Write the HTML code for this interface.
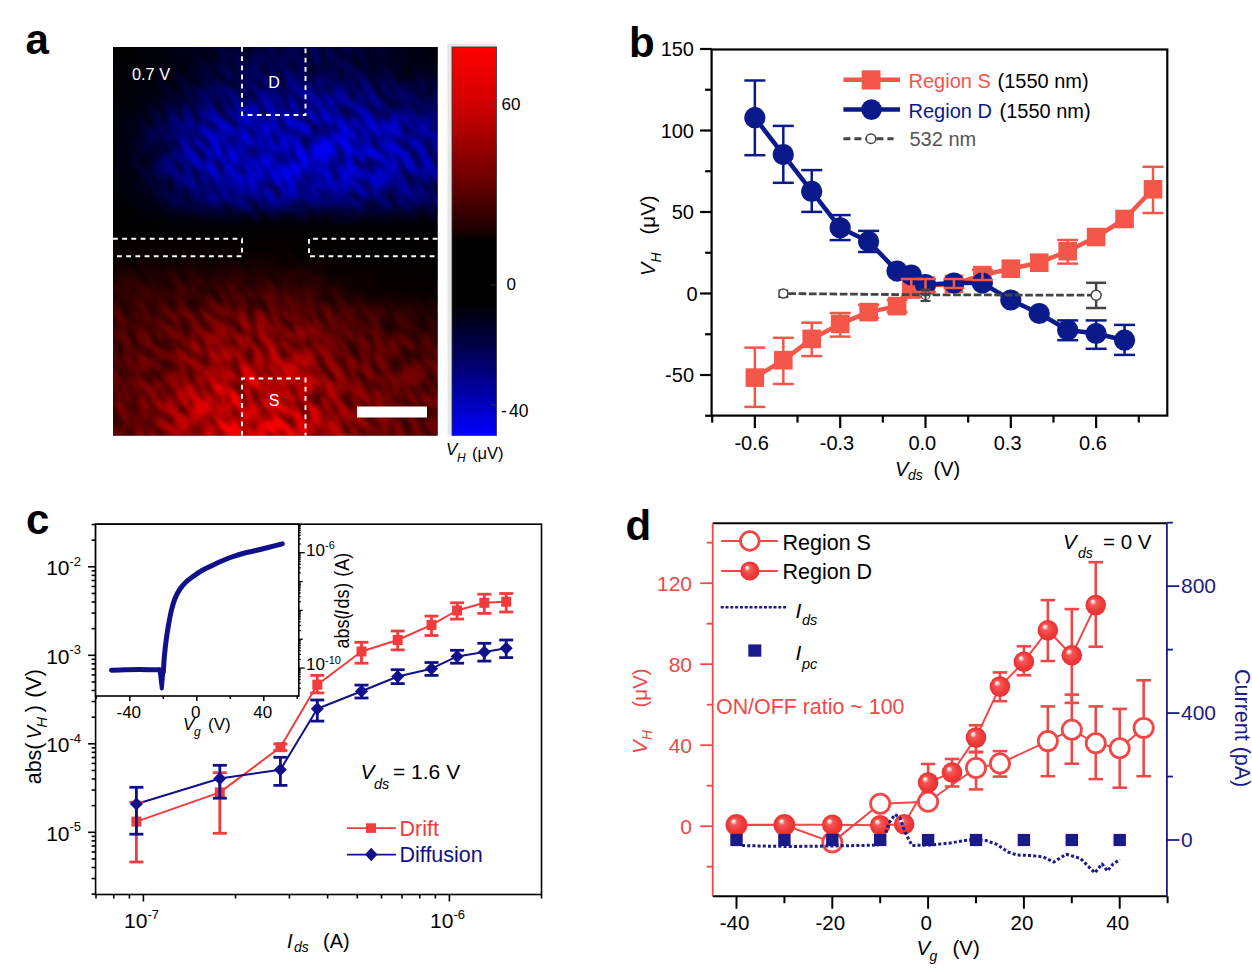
<!DOCTYPE html>
<html><head><meta charset="utf-8"><style>
html,body{margin:0;padding:0;background:#fff;}
svg{display:block;}
text{font-family:"Liberation Sans", sans-serif;}
</style></head><body>
<svg width="1252" height="977" viewBox="0 0 1252 977">
<rect width="1252" height="977" fill="#fff"/>
<text x="25.50" y="53.50" font-size="42" text-anchor="start" fill="#000" font-weight="bold" >a</text>
<defs>
<radialGradient id="gblue" cx="0.5" cy="0.5" r="0.5">
 <stop offset="0" stop-color="#1020d0" stop-opacity="1"/>
 <stop offset="0.55" stop-color="#0818b0" stop-opacity="0.85"/>
 <stop offset="1" stop-color="#000040" stop-opacity="0"/>
</radialGradient>
<radialGradient id="gred" cx="0.5" cy="0.5" r="0.5">
 <stop offset="0" stop-color="#e01010" stop-opacity="1"/>
 <stop offset="0.55" stop-color="#b00808" stop-opacity="0.85"/>
 <stop offset="1" stop-color="#400000" stop-opacity="0"/>
</radialGradient>
<linearGradient id="gcbar" x1="0" y1="0" x2="0" y2="1">
 <stop offset="0" stop-color="#ff0000"/>
 <stop offset="0.15" stop-color="#d00000"/>
 <stop offset="0.35" stop-color="#680000"/>
 <stop offset="0.47" stop-color="#1c0000"/>
 <stop offset="0.5" stop-color="#000000"/>
 <stop offset="0.66" stop-color="#000000"/>
 <stop offset="0.8" stop-color="#000060"/>
 <stop offset="0.9" stop-color="#0000b0"/>
 <stop offset="1" stop-color="#0000ff"/>
</linearGradient>
<clipPath id="mapclip"><rect x="113" y="47" width="324.5" height="388.5"/></clipPath>
<filter id="tex" x="0" y="0" width="100%" height="100%">
 <feTurbulence type="fractalNoise" baseFrequency="0.05 0.12" numOctaves="2" seed="3" result="n"/>
 <feColorMatrix in="n" type="matrix" values="0 0 0 0 0  0 0 0 0 0  0 0 0 0 0  0 0 0 -2.2 1.25" result="m"/>
 <feComposite in="SourceGraphic" in2="m" operator="in"/>
</filter>
</defs>
<rect x="113" y="47" width="324.5" height="388.5" fill="#000"/>
<defs><filter id="mblur" x="-10%" y="-10%" width="120%" height="120%" color-interpolation-filters="sRGB"><feGaussianBlur stdDeviation="11"/></filter>
<filter id="mtex" x="0" y="0" width="100%" height="100%" color-interpolation-filters="sRGB"><feTurbulence type="fractalNoise" baseFrequency="0.055 0.12" numOctaves="1" seed="11" result="n"/><feGaussianBlur in="n" stdDeviation="1.2" result="nb"/><feColorMatrix in="nb" type="matrix" values="0 0 0 0 0  0 0 0 0 0  0 0 0 0 0  1.5 0 0 0 -0.52" result="m"/><feComposite in="SourceGraphic" in2="m" operator="in"/></filter></defs>
<g clip-path="url(#mapclip)">
<g filter="url(#mblur)">
<rect x="86.0" y="14.6" width="27.6" height="33.0" fill="rgb(0,0,5)"/>
<rect x="113.0" y="14.6" width="27.6" height="33.0" fill="rgb(0,0,5)"/>
<rect x="140.0" y="14.6" width="27.6" height="33.0" fill="rgb(0,0,10)"/>
<rect x="167.1" y="14.6" width="27.6" height="33.0" fill="rgb(0,0,26)"/>
<rect x="194.1" y="14.6" width="27.6" height="33.0" fill="rgb(0,0,46)"/>
<rect x="221.2" y="14.6" width="27.6" height="33.0" fill="rgb(0,0,76)"/>
<rect x="248.2" y="14.6" width="27.6" height="33.0" fill="rgb(0,0,92)"/>
<rect x="275.2" y="14.6" width="27.6" height="33.0" fill="rgb(0,0,97)"/>
<rect x="302.3" y="14.6" width="27.6" height="33.0" fill="rgb(0,0,92)"/>
<rect x="329.3" y="14.6" width="27.6" height="33.0" fill="rgb(0,0,76)"/>
<rect x="356.4" y="14.6" width="27.6" height="33.0" fill="rgb(0,0,56)"/>
<rect x="383.4" y="14.6" width="27.6" height="33.0" fill="rgb(0,0,36)"/>
<rect x="410.5" y="14.6" width="27.6" height="33.0" fill="rgb(0,0,20)"/>
<rect x="437.5" y="14.6" width="27.6" height="33.0" fill="rgb(0,0,20)"/>
<rect x="86.0" y="47.0" width="27.6" height="33.0" fill="rgb(0,0,5)"/>
<rect x="113.0" y="47.0" width="27.6" height="33.0" fill="rgb(0,0,5)"/>
<rect x="140.0" y="47.0" width="27.6" height="33.0" fill="rgb(0,0,10)"/>
<rect x="167.1" y="47.0" width="27.6" height="33.0" fill="rgb(0,0,26)"/>
<rect x="194.1" y="47.0" width="27.6" height="33.0" fill="rgb(0,0,46)"/>
<rect x="221.2" y="47.0" width="27.6" height="33.0" fill="rgb(0,0,76)"/>
<rect x="248.2" y="47.0" width="27.6" height="33.0" fill="rgb(0,0,92)"/>
<rect x="275.2" y="47.0" width="27.6" height="33.0" fill="rgb(0,0,97)"/>
<rect x="302.3" y="47.0" width="27.6" height="33.0" fill="rgb(0,0,92)"/>
<rect x="329.3" y="47.0" width="27.6" height="33.0" fill="rgb(0,0,76)"/>
<rect x="356.4" y="47.0" width="27.6" height="33.0" fill="rgb(0,0,56)"/>
<rect x="383.4" y="47.0" width="27.6" height="33.0" fill="rgb(0,0,36)"/>
<rect x="410.5" y="47.0" width="27.6" height="33.0" fill="rgb(0,0,20)"/>
<rect x="437.5" y="47.0" width="27.6" height="33.0" fill="rgb(0,0,20)"/>
<rect x="86.0" y="79.4" width="27.6" height="33.0" fill="rgb(0,0,8)"/>
<rect x="113.0" y="79.4" width="27.6" height="33.0" fill="rgb(0,0,8)"/>
<rect x="140.0" y="79.4" width="27.6" height="33.0" fill="rgb(0,0,20)"/>
<rect x="167.1" y="79.4" width="27.6" height="33.0" fill="rgb(0,0,61)"/>
<rect x="194.1" y="79.4" width="27.6" height="33.0" fill="rgb(0,0,102)"/>
<rect x="221.2" y="79.4" width="27.6" height="33.0" fill="rgb(0,0,133)"/>
<rect x="248.2" y="79.4" width="27.6" height="33.0" fill="rgb(0,0,148)"/>
<rect x="275.2" y="79.4" width="27.6" height="33.0" fill="rgb(0,0,158)"/>
<rect x="302.3" y="79.4" width="27.6" height="33.0" fill="rgb(0,0,158)"/>
<rect x="329.3" y="79.4" width="27.6" height="33.0" fill="rgb(0,0,153)"/>
<rect x="356.4" y="79.4" width="27.6" height="33.0" fill="rgb(0,0,138)"/>
<rect x="383.4" y="79.4" width="27.6" height="33.0" fill="rgb(0,0,107)"/>
<rect x="410.5" y="79.4" width="27.6" height="33.0" fill="rgb(0,0,82)"/>
<rect x="437.5" y="79.4" width="27.6" height="33.0" fill="rgb(0,0,82)"/>
<rect x="86.0" y="111.8" width="27.6" height="33.0" fill="rgb(0,0,13)"/>
<rect x="113.0" y="111.8" width="27.6" height="33.0" fill="rgb(0,0,13)"/>
<rect x="140.0" y="111.8" width="27.6" height="33.0" fill="rgb(0,0,76)"/>
<rect x="167.1" y="111.8" width="27.6" height="33.0" fill="rgb(0,0,158)"/>
<rect x="194.1" y="111.8" width="27.6" height="33.0" fill="rgb(0,0,199)"/>
<rect x="221.2" y="111.8" width="27.6" height="33.0" fill="rgb(0,0,219)"/>
<rect x="248.2" y="111.8" width="27.6" height="33.0" fill="rgb(0,0,224)"/>
<rect x="275.2" y="111.8" width="27.6" height="33.0" fill="rgb(0,0,224)"/>
<rect x="302.3" y="111.8" width="27.6" height="33.0" fill="rgb(0,0,224)"/>
<rect x="329.3" y="111.8" width="27.6" height="33.0" fill="rgb(0,0,224)"/>
<rect x="356.4" y="111.8" width="27.6" height="33.0" fill="rgb(0,0,224)"/>
<rect x="383.4" y="111.8" width="27.6" height="33.0" fill="rgb(0,0,204)"/>
<rect x="410.5" y="111.8" width="27.6" height="33.0" fill="rgb(0,0,178)"/>
<rect x="437.5" y="111.8" width="27.6" height="33.0" fill="rgb(0,0,178)"/>
<rect x="86.0" y="144.1" width="27.6" height="33.0" fill="rgb(0,0,20)"/>
<rect x="113.0" y="144.1" width="27.6" height="33.0" fill="rgb(0,0,20)"/>
<rect x="140.0" y="144.1" width="27.6" height="33.0" fill="rgb(0,0,92)"/>
<rect x="167.1" y="144.1" width="27.6" height="33.0" fill="rgb(0,0,173)"/>
<rect x="194.1" y="144.1" width="27.6" height="33.0" fill="rgb(0,0,219)"/>
<rect x="221.2" y="144.1" width="27.6" height="33.0" fill="rgb(0,0,235)"/>
<rect x="248.2" y="144.1" width="27.6" height="33.0" fill="rgb(0,0,245)"/>
<rect x="275.2" y="144.1" width="27.6" height="33.0" fill="rgb(0,0,245)"/>
<rect x="302.3" y="144.1" width="27.6" height="33.0" fill="rgb(0,0,245)"/>
<rect x="329.3" y="144.1" width="27.6" height="33.0" fill="rgb(0,0,245)"/>
<rect x="356.4" y="144.1" width="27.6" height="33.0" fill="rgb(0,0,235)"/>
<rect x="383.4" y="144.1" width="27.6" height="33.0" fill="rgb(0,0,219)"/>
<rect x="410.5" y="144.1" width="27.6" height="33.0" fill="rgb(0,0,189)"/>
<rect x="437.5" y="144.1" width="27.6" height="33.0" fill="rgb(0,0,189)"/>
<rect x="86.0" y="176.5" width="27.6" height="33.0" fill="rgb(0,0,8)"/>
<rect x="113.0" y="176.5" width="27.6" height="33.0" fill="rgb(0,0,8)"/>
<rect x="140.0" y="176.5" width="27.6" height="33.0" fill="rgb(0,0,41)"/>
<rect x="167.1" y="176.5" width="27.6" height="33.0" fill="rgb(0,0,117)"/>
<rect x="194.1" y="176.5" width="27.6" height="33.0" fill="rgb(0,0,163)"/>
<rect x="221.2" y="176.5" width="27.6" height="33.0" fill="rgb(0,0,194)"/>
<rect x="248.2" y="176.5" width="27.6" height="33.0" fill="rgb(0,0,204)"/>
<rect x="275.2" y="176.5" width="27.6" height="33.0" fill="rgb(0,0,204)"/>
<rect x="302.3" y="176.5" width="27.6" height="33.0" fill="rgb(0,0,199)"/>
<rect x="329.3" y="176.5" width="27.6" height="33.0" fill="rgb(0,0,194)"/>
<rect x="356.4" y="176.5" width="27.6" height="33.0" fill="rgb(0,0,184)"/>
<rect x="383.4" y="176.5" width="27.6" height="33.0" fill="rgb(0,0,163)"/>
<rect x="410.5" y="176.5" width="27.6" height="33.0" fill="rgb(0,0,143)"/>
<rect x="437.5" y="176.5" width="27.6" height="33.0" fill="rgb(0,0,143)"/>
<rect x="86.0" y="208.9" width="27.6" height="33.0" fill="rgb(0,0,0)"/>
<rect x="113.0" y="208.9" width="27.6" height="33.0" fill="rgb(0,0,0)"/>
<rect x="140.0" y="208.9" width="27.6" height="33.0" fill="rgb(0,0,0)"/>
<rect x="167.1" y="208.9" width="27.6" height="33.0" fill="rgb(0,0,5)"/>
<rect x="194.1" y="208.9" width="27.6" height="33.0" fill="rgb(0,0,10)"/>
<rect x="221.2" y="208.9" width="27.6" height="33.0" fill="rgb(0,0,15)"/>
<rect x="248.2" y="208.9" width="27.6" height="33.0" fill="rgb(0,0,20)"/>
<rect x="275.2" y="208.9" width="27.6" height="33.0" fill="rgb(0,0,20)"/>
<rect x="302.3" y="208.9" width="27.6" height="33.0" fill="rgb(0,0,15)"/>
<rect x="329.3" y="208.9" width="27.6" height="33.0" fill="rgb(0,0,13)"/>
<rect x="356.4" y="208.9" width="27.6" height="33.0" fill="rgb(0,0,10)"/>
<rect x="383.4" y="208.9" width="27.6" height="33.0" fill="rgb(0,0,8)"/>
<rect x="410.5" y="208.9" width="27.6" height="33.0" fill="rgb(0,0,5)"/>
<rect x="437.5" y="208.9" width="27.6" height="33.0" fill="rgb(0,0,5)"/>
<rect x="86.0" y="241.2" width="27.6" height="33.0" fill="rgb(0,0,0)"/>
<rect x="113.0" y="241.2" width="27.6" height="33.0" fill="rgb(0,0,0)"/>
<rect x="140.0" y="241.2" width="27.6" height="33.0" fill="rgb(0,0,0)"/>
<rect x="167.1" y="241.2" width="27.6" height="33.0" fill="rgb(0,0,0)"/>
<rect x="194.1" y="241.2" width="27.6" height="33.0" fill="rgb(0,0,0)"/>
<rect x="221.2" y="241.2" width="27.6" height="33.0" fill="rgb(0,0,0)"/>
<rect x="248.2" y="241.2" width="27.6" height="33.0" fill="rgb(0,0,0)"/>
<rect x="275.2" y="241.2" width="27.6" height="33.0" fill="rgb(0,0,0)"/>
<rect x="302.3" y="241.2" width="27.6" height="33.0" fill="rgb(0,0,0)"/>
<rect x="329.3" y="241.2" width="27.6" height="33.0" fill="rgb(0,0,0)"/>
<rect x="356.4" y="241.2" width="27.6" height="33.0" fill="rgb(0,0,0)"/>
<rect x="383.4" y="241.2" width="27.6" height="33.0" fill="rgb(0,0,0)"/>
<rect x="410.5" y="241.2" width="27.6" height="33.0" fill="rgb(0,0,0)"/>
<rect x="437.5" y="241.2" width="27.6" height="33.0" fill="rgb(0,0,0)"/>
<rect x="86.0" y="208.9" width="27.6" height="33.0" fill="rgb(0,0,0)"/>
<rect x="113.0" y="208.9" width="27.6" height="33.0" fill="rgb(0,0,0)"/>
<rect x="140.0" y="208.9" width="27.6" height="33.0" fill="rgb(0,0,0)"/>
<rect x="167.1" y="208.9" width="27.6" height="33.0" fill="rgb(0,0,0)"/>
<rect x="194.1" y="208.9" width="27.6" height="33.0" fill="rgb(0,0,0)"/>
<rect x="221.2" y="208.9" width="27.6" height="33.0" fill="rgb(0,0,0)"/>
<rect x="248.2" y="208.9" width="27.6" height="33.0" fill="rgb(0,0,0)"/>
<rect x="275.2" y="208.9" width="27.6" height="33.0" fill="rgb(0,0,0)"/>
<rect x="302.3" y="208.9" width="27.6" height="33.0" fill="rgb(0,0,0)"/>
<rect x="329.3" y="208.9" width="27.6" height="33.0" fill="rgb(0,0,0)"/>
<rect x="356.4" y="208.9" width="27.6" height="33.0" fill="rgb(0,0,0)"/>
<rect x="383.4" y="208.9" width="27.6" height="33.0" fill="rgb(0,0,0)"/>
<rect x="410.5" y="208.9" width="27.6" height="33.0" fill="rgb(0,0,0)"/>
<rect x="437.5" y="208.9" width="27.6" height="33.0" fill="rgb(0,0,0)"/>
<rect x="86.0" y="241.2" width="27.6" height="33.0" fill="rgb(13,0,0)"/>
<rect x="113.0" y="241.2" width="27.6" height="33.0" fill="rgb(13,0,0)"/>
<rect x="140.0" y="241.2" width="27.6" height="33.0" fill="rgb(13,0,0)"/>
<rect x="167.1" y="241.2" width="27.6" height="33.0" fill="rgb(13,0,0)"/>
<rect x="194.1" y="241.2" width="27.6" height="33.0" fill="rgb(13,0,0)"/>
<rect x="221.2" y="241.2" width="27.6" height="33.0" fill="rgb(13,0,0)"/>
<rect x="248.2" y="241.2" width="27.6" height="33.0" fill="rgb(13,0,0)"/>
<rect x="275.2" y="241.2" width="27.6" height="33.0" fill="rgb(10,0,0)"/>
<rect x="302.3" y="241.2" width="27.6" height="33.0" fill="rgb(8,0,0)"/>
<rect x="329.3" y="241.2" width="27.6" height="33.0" fill="rgb(5,0,0)"/>
<rect x="356.4" y="241.2" width="27.6" height="33.0" fill="rgb(3,0,0)"/>
<rect x="383.4" y="241.2" width="27.6" height="33.0" fill="rgb(3,0,0)"/>
<rect x="410.5" y="241.2" width="27.6" height="33.0" fill="rgb(3,0,0)"/>
<rect x="437.5" y="241.2" width="27.6" height="33.0" fill="rgb(3,0,0)"/>
<rect x="86.0" y="273.6" width="27.6" height="33.0" fill="rgb(56,0,0)"/>
<rect x="113.0" y="273.6" width="27.6" height="33.0" fill="rgb(56,0,0)"/>
<rect x="140.0" y="273.6" width="27.6" height="33.0" fill="rgb(61,0,0)"/>
<rect x="167.1" y="273.6" width="27.6" height="33.0" fill="rgb(66,0,0)"/>
<rect x="194.1" y="273.6" width="27.6" height="33.0" fill="rgb(71,0,0)"/>
<rect x="221.2" y="273.6" width="27.6" height="33.0" fill="rgb(76,0,0)"/>
<rect x="248.2" y="273.6" width="27.6" height="33.0" fill="rgb(76,0,0)"/>
<rect x="275.2" y="273.6" width="27.6" height="33.0" fill="rgb(71,0,0)"/>
<rect x="302.3" y="273.6" width="27.6" height="33.0" fill="rgb(56,0,0)"/>
<rect x="329.3" y="273.6" width="27.6" height="33.0" fill="rgb(33,0,0)"/>
<rect x="356.4" y="273.6" width="27.6" height="33.0" fill="rgb(15,0,0)"/>
<rect x="383.4" y="273.6" width="27.6" height="33.0" fill="rgb(8,0,0)"/>
<rect x="410.5" y="273.6" width="27.6" height="33.0" fill="rgb(5,0,0)"/>
<rect x="437.5" y="273.6" width="27.6" height="33.0" fill="rgb(5,0,0)"/>
<rect x="86.0" y="306.0" width="27.6" height="33.0" fill="rgb(87,0,0)"/>
<rect x="113.0" y="306.0" width="27.6" height="33.0" fill="rgb(87,0,0)"/>
<rect x="140.0" y="306.0" width="27.6" height="33.0" fill="rgb(97,0,0)"/>
<rect x="167.1" y="306.0" width="27.6" height="33.0" fill="rgb(112,0,0)"/>
<rect x="194.1" y="306.0" width="27.6" height="33.0" fill="rgb(128,0,0)"/>
<rect x="221.2" y="306.0" width="27.6" height="33.0" fill="rgb(143,0,0)"/>
<rect x="248.2" y="306.0" width="27.6" height="33.0" fill="rgb(153,0,0)"/>
<rect x="275.2" y="306.0" width="27.6" height="33.0" fill="rgb(148,0,0)"/>
<rect x="302.3" y="306.0" width="27.6" height="33.0" fill="rgb(133,0,0)"/>
<rect x="329.3" y="306.0" width="27.6" height="33.0" fill="rgb(112,0,0)"/>
<rect x="356.4" y="306.0" width="27.6" height="33.0" fill="rgb(89,0,0)"/>
<rect x="383.4" y="306.0" width="27.6" height="33.0" fill="rgb(71,0,0)"/>
<rect x="410.5" y="306.0" width="27.6" height="33.0" fill="rgb(56,0,0)"/>
<rect x="437.5" y="306.0" width="27.6" height="33.0" fill="rgb(56,0,0)"/>
<rect x="86.0" y="338.4" width="27.6" height="33.0" fill="rgb(97,0,0)"/>
<rect x="113.0" y="338.4" width="27.6" height="33.0" fill="rgb(97,0,0)"/>
<rect x="140.0" y="338.4" width="27.6" height="33.0" fill="rgb(117,0,0)"/>
<rect x="167.1" y="338.4" width="27.6" height="33.0" fill="rgb(143,0,0)"/>
<rect x="194.1" y="338.4" width="27.6" height="33.0" fill="rgb(173,0,0)"/>
<rect x="221.2" y="338.4" width="27.6" height="33.0" fill="rgb(194,0,0)"/>
<rect x="248.2" y="338.4" width="27.6" height="33.0" fill="rgb(199,0,0)"/>
<rect x="275.2" y="338.4" width="27.6" height="33.0" fill="rgb(189,0,0)"/>
<rect x="302.3" y="338.4" width="27.6" height="33.0" fill="rgb(163,0,0)"/>
<rect x="329.3" y="338.4" width="27.6" height="33.0" fill="rgb(133,0,0)"/>
<rect x="356.4" y="338.4" width="27.6" height="33.0" fill="rgb(117,0,0)"/>
<rect x="383.4" y="338.4" width="27.6" height="33.0" fill="rgb(112,0,0)"/>
<rect x="410.5" y="338.4" width="27.6" height="33.0" fill="rgb(97,0,0)"/>
<rect x="437.5" y="338.4" width="27.6" height="33.0" fill="rgb(97,0,0)"/>
<rect x="86.0" y="370.8" width="27.6" height="33.0" fill="rgb(107,0,0)"/>
<rect x="113.0" y="370.8" width="27.6" height="33.0" fill="rgb(107,0,0)"/>
<rect x="140.0" y="370.8" width="27.6" height="33.0" fill="rgb(138,0,0)"/>
<rect x="167.1" y="370.8" width="27.6" height="33.0" fill="rgb(178,0,0)"/>
<rect x="194.1" y="370.8" width="27.6" height="33.0" fill="rgb(224,0,0)"/>
<rect x="221.2" y="370.8" width="27.6" height="33.0" fill="rgb(240,0,0)"/>
<rect x="248.2" y="370.8" width="27.6" height="33.0" fill="rgb(240,0,0)"/>
<rect x="275.2" y="370.8" width="27.6" height="33.0" fill="rgb(230,0,0)"/>
<rect x="302.3" y="370.8" width="27.6" height="33.0" fill="rgb(204,0,0)"/>
<rect x="329.3" y="370.8" width="27.6" height="33.0" fill="rgb(168,0,0)"/>
<rect x="356.4" y="370.8" width="27.6" height="33.0" fill="rgb(138,0,0)"/>
<rect x="383.4" y="370.8" width="27.6" height="33.0" fill="rgb(128,0,0)"/>
<rect x="410.5" y="370.8" width="27.6" height="33.0" fill="rgb(112,0,0)"/>
<rect x="437.5" y="370.8" width="27.6" height="33.0" fill="rgb(112,0,0)"/>
<rect x="86.0" y="403.1" width="27.6" height="33.0" fill="rgb(112,0,0)"/>
<rect x="113.0" y="403.1" width="27.6" height="33.0" fill="rgb(112,0,0)"/>
<rect x="140.0" y="403.1" width="27.6" height="33.0" fill="rgb(148,0,0)"/>
<rect x="167.1" y="403.1" width="27.6" height="33.0" fill="rgb(194,0,0)"/>
<rect x="194.1" y="403.1" width="27.6" height="33.0" fill="rgb(235,0,0)"/>
<rect x="221.2" y="403.1" width="27.6" height="33.0" fill="rgb(250,0,0)"/>
<rect x="248.2" y="403.1" width="27.6" height="33.0" fill="rgb(250,0,0)"/>
<rect x="275.2" y="403.1" width="27.6" height="33.0" fill="rgb(240,0,0)"/>
<rect x="302.3" y="403.1" width="27.6" height="33.0" fill="rgb(214,0,0)"/>
<rect x="329.3" y="403.1" width="27.6" height="33.0" fill="rgb(178,0,0)"/>
<rect x="356.4" y="403.1" width="27.6" height="33.0" fill="rgb(143,0,0)"/>
<rect x="383.4" y="403.1" width="27.6" height="33.0" fill="rgb(128,0,0)"/>
<rect x="410.5" y="403.1" width="27.6" height="33.0" fill="rgb(112,0,0)"/>
<rect x="437.5" y="403.1" width="27.6" height="33.0" fill="rgb(112,0,0)"/>
<rect x="86.0" y="435.5" width="27.6" height="33.0" fill="rgb(112,0,0)"/>
<rect x="113.0" y="435.5" width="27.6" height="33.0" fill="rgb(112,0,0)"/>
<rect x="140.0" y="435.5" width="27.6" height="33.0" fill="rgb(148,0,0)"/>
<rect x="167.1" y="435.5" width="27.6" height="33.0" fill="rgb(194,0,0)"/>
<rect x="194.1" y="435.5" width="27.6" height="33.0" fill="rgb(235,0,0)"/>
<rect x="221.2" y="435.5" width="27.6" height="33.0" fill="rgb(250,0,0)"/>
<rect x="248.2" y="435.5" width="27.6" height="33.0" fill="rgb(250,0,0)"/>
<rect x="275.2" y="435.5" width="27.6" height="33.0" fill="rgb(240,0,0)"/>
<rect x="302.3" y="435.5" width="27.6" height="33.0" fill="rgb(214,0,0)"/>
<rect x="329.3" y="435.5" width="27.6" height="33.0" fill="rgb(178,0,0)"/>
<rect x="356.4" y="435.5" width="27.6" height="33.0" fill="rgb(143,0,0)"/>
<rect x="383.4" y="435.5" width="27.6" height="33.0" fill="rgb(128,0,0)"/>
<rect x="410.5" y="435.5" width="27.6" height="33.0" fill="rgb(112,0,0)"/>
<rect x="437.5" y="435.5" width="27.6" height="33.0" fill="rgb(112,0,0)"/>
</g>
<g transform="rotate(56 275 241)"><rect x="-20" y="-20" width="600" height="600" fill="#000" filter="url(#mtex)"/></g>
</g>
<path d="M242,47 V115 H305.5 V47" fill="none" stroke="#fff" stroke-width="1.9" stroke-dasharray="4.8 4.4"/>
<path d="M242,435.5 V378.5 H305.5 V435.5" fill="none" stroke="#fff" stroke-width="1.9" stroke-dasharray="4.8 4.4"/>
<path d="M113,238.7 H242 V256.3 H113" fill="none" stroke="#fff" stroke-width="1.9" stroke-dasharray="4.8 4.4"/>
<path d="M437.5,238.7 H309 V256.3 H437.5" fill="none" stroke="#fff" stroke-width="1.9" stroke-dasharray="4.8 4.4"/>
<text x="274.00" y="87.50" font-size="16" text-anchor="middle" fill="#fff" >D</text>
<text x="274.00" y="406.00" font-size="16" text-anchor="middle" fill="#fff" >S</text>
<text x="132.00" y="80.00" font-size="16.3" text-anchor="start" fill="#fff" >0.7 V</text>
<rect x="357" y="406.5" width="70" height="11" fill="#fff"/>
<rect x="447.5" y="44" width="49" height="4" fill="#e6e6e6"/>
<rect x="447.5" y="44" width="4.5" height="391.5" fill="#e6e6e6"/>
<rect x="452" y="47" width="44.5" height="388.5" fill="url(#gcbar)" stroke="#333" stroke-width="0.8"/>
<path d="M490,105 H496 M490,285 H496 M490,405 H496" stroke="#444" stroke-width="1" opacity="0.6"/>
<text x="501.50" y="109.50" font-size="17" text-anchor="start" fill="#000" >60</text>
<text x="506.50" y="290.00" font-size="17" text-anchor="start" fill="#000" >0</text>
<text x="501.00" y="417.00" font-size="17.5" text-anchor="start" fill="#000" >-</text>
<text x="509.00" y="417.00" font-size="17.5" text-anchor="start" fill="#000" >40</text>
<text x="446.00" y="454.50" font-size="17" text-anchor="start" fill="#000" font-style="italic" >V</text>
<text x="457.00" y="461.50" font-size="12" text-anchor="start" fill="#000" font-style="italic" >H</text>
<text x="472.00" y="458.50" font-size="16.5" text-anchor="start" fill="#000" >(μV)</text>
<text x="629.00" y="56.50" font-size="42" text-anchor="start" fill="#000" font-weight="bold" >b</text>
<rect x="711.6" y="49.5" width="455.69999999999993" height="366.1" fill="none" stroke="#000" stroke-width="2.2"/>
<line x1="700.10" y1="375.00" x2="711.60" y2="375.00" stroke="#000" stroke-width="2.2" />
<text x="694.00" y="382.00" font-size="20" text-anchor="end" fill="#000" >-50</text>
<line x1="700.10" y1="293.50" x2="711.60" y2="293.50" stroke="#000" stroke-width="2.2" />
<text x="697.50" y="300.50" font-size="20" text-anchor="end" fill="#000" >0</text>
<line x1="700.10" y1="212.00" x2="711.60" y2="212.00" stroke="#000" stroke-width="2.2" />
<text x="694.00" y="219.00" font-size="20" text-anchor="end" fill="#000" >50</text>
<line x1="700.10" y1="130.50" x2="711.60" y2="130.50" stroke="#000" stroke-width="2.2" />
<text x="694.00" y="137.50" font-size="20" text-anchor="end" fill="#000" >100</text>
<line x1="700.10" y1="49.00" x2="711.60" y2="49.00" stroke="#000" stroke-width="2.2" />
<text x="694.00" y="56.00" font-size="20" text-anchor="end" fill="#000" >150</text>
<line x1="705.10" y1="415.75" x2="711.60" y2="415.75" stroke="#000" stroke-width="2.2" />
<line x1="705.10" y1="334.25" x2="711.60" y2="334.25" stroke="#000" stroke-width="2.2" />
<line x1="705.10" y1="252.75" x2="711.60" y2="252.75" stroke="#000" stroke-width="2.2" />
<line x1="705.10" y1="171.25" x2="711.60" y2="171.25" stroke="#000" stroke-width="2.2" />
<line x1="705.10" y1="89.75" x2="711.60" y2="89.75" stroke="#000" stroke-width="2.2" />
<line x1="754.86" y1="415.60" x2="754.86" y2="428.10" stroke="#000" stroke-width="2.2" />
<text x="751.66" y="449.50" font-size="20" text-anchor="middle" fill="#000" >-0.6</text>
<line x1="840.18" y1="415.60" x2="840.18" y2="428.10" stroke="#000" stroke-width="2.2" />
<text x="836.98" y="449.50" font-size="20" text-anchor="middle" fill="#000" >-0.3</text>
<line x1="925.50" y1="415.60" x2="925.50" y2="428.10" stroke="#000" stroke-width="2.2" />
<text x="922.30" y="449.50" font-size="20" text-anchor="middle" fill="#000" >0.0</text>
<line x1="1010.82" y1="415.60" x2="1010.82" y2="428.10" stroke="#000" stroke-width="2.2" />
<text x="1007.62" y="449.50" font-size="20" text-anchor="middle" fill="#000" >0.3</text>
<line x1="1096.14" y1="415.60" x2="1096.14" y2="428.10" stroke="#000" stroke-width="2.2" />
<text x="1092.94" y="449.50" font-size="20" text-anchor="middle" fill="#000" >0.6</text>
<line x1="712.20" y1="415.60" x2="712.20" y2="422.60" stroke="#000" stroke-width="2.2" />
<line x1="797.52" y1="415.60" x2="797.52" y2="422.60" stroke="#000" stroke-width="2.2" />
<line x1="882.84" y1="415.60" x2="882.84" y2="422.60" stroke="#000" stroke-width="2.2" />
<line x1="968.16" y1="415.60" x2="968.16" y2="422.60" stroke="#000" stroke-width="2.2" />
<line x1="1053.48" y1="415.60" x2="1053.48" y2="422.60" stroke="#000" stroke-width="2.2" />
<line x1="1138.80" y1="415.60" x2="1138.80" y2="422.60" stroke="#000" stroke-width="2.2" />
<text x="895.00" y="475.50" font-size="20" text-anchor="start" fill="#000" font-style="italic" >V</text>
<text x="908.00" y="480.00" font-size="14" text-anchor="start" fill="#000" font-style="italic" >ds</text>
<text x="933.50" y="475.50" font-size="20" text-anchor="start" fill="#000" >(V)</text>
<g transform="translate(654.5,276) rotate(-90)">
<text x="0.00" y="0.00" font-size="20" text-anchor="start" fill="#000" font-style="italic" >V</text>
<text x="13.50" y="6.00" font-size="14" text-anchor="start" fill="#000" font-style="italic" >H</text>
<text x="41.50" y="0.00" font-size="20.5" text-anchor="start" fill="#000" >(μV)</text>
</g>
<polyline points="754.86,377.60 783.30,360.20 811.74,338.90 840.18,323.90 868.62,312.10 897.06,306.10 911.28,289.50 925.50,285.50 953.94,283.90 982.38,275.10 1010.82,268.70 1039.26,262.70 1067.70,251.20 1096.14,237.00 1124.58,219.00 1153.02,189.30" fill="none" stroke="#f4564a" stroke-width="4.5" stroke-linejoin="round" />
<rect x="745.56" y="368.30" width="18.6" height="18.6" fill="#f4564a"/>
<rect x="774.00" y="350.90" width="18.6" height="18.6" fill="#f4564a"/>
<rect x="802.44" y="329.60" width="18.6" height="18.6" fill="#f4564a"/>
<rect x="830.88" y="314.60" width="18.6" height="18.6" fill="#f4564a"/>
<rect x="859.32" y="302.80" width="18.6" height="18.6" fill="#f4564a"/>
<rect x="887.76" y="296.80" width="18.6" height="18.6" fill="#f4564a"/>
<rect x="901.98" y="280.20" width="18.6" height="18.6" fill="#f4564a"/>
<rect x="916.20" y="276.20" width="18.6" height="18.6" fill="#f4564a"/>
<rect x="944.64" y="274.60" width="18.6" height="18.6" fill="#f4564a"/>
<rect x="973.08" y="265.80" width="18.6" height="18.6" fill="#f4564a"/>
<rect x="1001.52" y="259.40" width="18.6" height="18.6" fill="#f4564a"/>
<rect x="1029.96" y="253.40" width="18.6" height="18.6" fill="#f4564a"/>
<rect x="1058.40" y="241.90" width="18.6" height="18.6" fill="#f4564a"/>
<rect x="1086.84" y="227.70" width="18.6" height="18.6" fill="#f4564a"/>
<rect x="1115.28" y="209.70" width="18.6" height="18.6" fill="#f4564a"/>
<rect x="1143.72" y="180.00" width="18.6" height="18.6" fill="#f4564a"/>
<polyline points="754.86,117.70 783.30,154.60 811.74,191.40 840.18,227.80 868.62,241.50 897.06,271.10 911.28,275.10 925.50,284.70 953.94,283.10 982.38,283.10 1010.82,300.00 1039.26,313.50 1067.70,330.00 1096.14,333.50 1124.58,340.20" fill="none" stroke="#0a1a8a" stroke-width="4.5" stroke-linejoin="round" />
<circle cx="754.86" cy="117.70" r="10.6" fill="#0a1a8a"/>
<circle cx="783.30" cy="154.60" r="10.6" fill="#0a1a8a"/>
<circle cx="811.74" cy="191.40" r="10.6" fill="#0a1a8a"/>
<circle cx="840.18" cy="227.80" r="10.6" fill="#0a1a8a"/>
<circle cx="868.62" cy="241.50" r="10.6" fill="#0a1a8a"/>
<circle cx="897.06" cy="271.10" r="10.6" fill="#0a1a8a"/>
<circle cx="911.28" cy="275.10" r="10.6" fill="#0a1a8a"/>
<circle cx="925.50" cy="284.70" r="10.6" fill="#0a1a8a"/>
<circle cx="953.94" cy="283.10" r="10.6" fill="#0a1a8a"/>
<circle cx="982.38" cy="283.10" r="10.6" fill="#0a1a8a"/>
<circle cx="1010.82" cy="300.00" r="10.6" fill="#0a1a8a"/>
<circle cx="1039.26" cy="313.50" r="10.6" fill="#0a1a8a"/>
<circle cx="1067.70" cy="330.00" r="10.6" fill="#0a1a8a"/>
<circle cx="1096.14" cy="333.50" r="10.6" fill="#0a1a8a"/>
<circle cx="1124.58" cy="340.20" r="10.6" fill="#0a1a8a"/>
<line x1="754.86" y1="347.60" x2="754.86" y2="406.90" stroke="#f4564a" stroke-width="2.5" />
<line x1="744.36" y1="347.60" x2="765.36" y2="347.60" stroke="#f4564a" stroke-width="2.5" />
<line x1="744.36" y1="406.90" x2="765.36" y2="406.90" stroke="#f4564a" stroke-width="2.5" />
<line x1="783.30" y1="337.80" x2="783.30" y2="384.00" stroke="#f4564a" stroke-width="2.5" />
<line x1="772.80" y1="337.80" x2="793.80" y2="337.80" stroke="#f4564a" stroke-width="2.5" />
<line x1="772.80" y1="384.00" x2="793.80" y2="384.00" stroke="#f4564a" stroke-width="2.5" />
<line x1="811.74" y1="322.70" x2="811.74" y2="356.10" stroke="#f4564a" stroke-width="2.5" />
<line x1="801.24" y1="322.70" x2="822.24" y2="322.70" stroke="#f4564a" stroke-width="2.5" />
<line x1="801.24" y1="356.10" x2="822.24" y2="356.10" stroke="#f4564a" stroke-width="2.5" />
<line x1="840.18" y1="313.00" x2="840.18" y2="336.60" stroke="#f4564a" stroke-width="2.5" />
<line x1="829.68" y1="313.00" x2="850.68" y2="313.00" stroke="#f4564a" stroke-width="2.5" />
<line x1="829.68" y1="336.60" x2="850.68" y2="336.60" stroke="#f4564a" stroke-width="2.5" />
<line x1="868.62" y1="305.00" x2="868.62" y2="318.00" stroke="#f4564a" stroke-width="2.5" />
<line x1="858.12" y1="305.00" x2="879.12" y2="305.00" stroke="#f4564a" stroke-width="2.5" />
<line x1="858.12" y1="318.00" x2="879.12" y2="318.00" stroke="#f4564a" stroke-width="2.5" />
<line x1="897.06" y1="300.00" x2="897.06" y2="312.00" stroke="#f4564a" stroke-width="2.5" />
<line x1="886.56" y1="300.00" x2="907.56" y2="300.00" stroke="#f4564a" stroke-width="2.5" />
<line x1="886.56" y1="312.00" x2="907.56" y2="312.00" stroke="#f4564a" stroke-width="2.5" />
<line x1="911.28" y1="279.00" x2="911.28" y2="297.00" stroke="#f4564a" stroke-width="2.5" />
<line x1="900.78" y1="279.00" x2="921.78" y2="279.00" stroke="#f4564a" stroke-width="2.5" />
<line x1="900.78" y1="297.00" x2="921.78" y2="297.00" stroke="#f4564a" stroke-width="2.5" />
<line x1="925.50" y1="279.00" x2="925.50" y2="292.00" stroke="#f4564a" stroke-width="2.5" />
<line x1="915.00" y1="279.00" x2="936.00" y2="279.00" stroke="#f4564a" stroke-width="2.5" />
<line x1="915.00" y1="292.00" x2="936.00" y2="292.00" stroke="#f4564a" stroke-width="2.5" />
<line x1="953.94" y1="279.00" x2="953.94" y2="288.00" stroke="#f4564a" stroke-width="2.5" />
<line x1="943.44" y1="279.00" x2="964.44" y2="279.00" stroke="#f4564a" stroke-width="2.5" />
<line x1="943.44" y1="288.00" x2="964.44" y2="288.00" stroke="#f4564a" stroke-width="2.5" />
<line x1="982.38" y1="270.00" x2="982.38" y2="280.00" stroke="#f4564a" stroke-width="2.5" />
<line x1="971.88" y1="270.00" x2="992.88" y2="270.00" stroke="#f4564a" stroke-width="2.5" />
<line x1="971.88" y1="280.00" x2="992.88" y2="280.00" stroke="#f4564a" stroke-width="2.5" />
<line x1="1067.70" y1="240.00" x2="1067.70" y2="263.60" stroke="#f4564a" stroke-width="2.5" />
<line x1="1057.20" y1="240.00" x2="1078.20" y2="240.00" stroke="#f4564a" stroke-width="2.5" />
<line x1="1057.20" y1="263.60" x2="1078.20" y2="263.60" stroke="#f4564a" stroke-width="2.5" />
<line x1="1153.02" y1="166.80" x2="1153.02" y2="213.00" stroke="#f4564a" stroke-width="2.5" />
<line x1="1142.52" y1="166.80" x2="1163.52" y2="166.80" stroke="#f4564a" stroke-width="2.5" />
<line x1="1142.52" y1="213.00" x2="1163.52" y2="213.00" stroke="#f4564a" stroke-width="2.5" />
<line x1="754.86" y1="80.50" x2="754.86" y2="155.20" stroke="#0a1a8a" stroke-width="2.5" />
<line x1="744.36" y1="80.50" x2="765.36" y2="80.50" stroke="#0a1a8a" stroke-width="2.5" />
<line x1="744.36" y1="155.20" x2="765.36" y2="155.20" stroke="#0a1a8a" stroke-width="2.5" />
<line x1="783.30" y1="125.90" x2="783.30" y2="182.80" stroke="#0a1a8a" stroke-width="2.5" />
<line x1="772.80" y1="125.90" x2="793.80" y2="125.90" stroke="#0a1a8a" stroke-width="2.5" />
<line x1="772.80" y1="182.80" x2="793.80" y2="182.80" stroke="#0a1a8a" stroke-width="2.5" />
<line x1="811.74" y1="170.10" x2="811.74" y2="211.90" stroke="#0a1a8a" stroke-width="2.5" />
<line x1="801.24" y1="170.10" x2="822.24" y2="170.10" stroke="#0a1a8a" stroke-width="2.5" />
<line x1="801.24" y1="211.90" x2="822.24" y2="211.90" stroke="#0a1a8a" stroke-width="2.5" />
<line x1="840.18" y1="215.10" x2="840.18" y2="240.10" stroke="#0a1a8a" stroke-width="2.5" />
<line x1="829.68" y1="215.10" x2="850.68" y2="215.10" stroke="#0a1a8a" stroke-width="2.5" />
<line x1="829.68" y1="240.10" x2="850.68" y2="240.10" stroke="#0a1a8a" stroke-width="2.5" />
<line x1="868.62" y1="230.90" x2="868.62" y2="252.00" stroke="#0a1a8a" stroke-width="2.5" />
<line x1="858.12" y1="230.90" x2="879.12" y2="230.90" stroke="#0a1a8a" stroke-width="2.5" />
<line x1="858.12" y1="252.00" x2="879.12" y2="252.00" stroke="#0a1a8a" stroke-width="2.5" />
<line x1="1067.70" y1="320.40" x2="1067.70" y2="340.20" stroke="#0a1a8a" stroke-width="2.5" />
<line x1="1057.20" y1="320.40" x2="1078.20" y2="320.40" stroke="#0a1a8a" stroke-width="2.5" />
<line x1="1057.20" y1="340.20" x2="1078.20" y2="340.20" stroke="#0a1a8a" stroke-width="2.5" />
<line x1="1096.14" y1="320.40" x2="1096.14" y2="348.80" stroke="#0a1a8a" stroke-width="2.5" />
<line x1="1085.64" y1="320.40" x2="1106.64" y2="320.40" stroke="#0a1a8a" stroke-width="2.5" />
<line x1="1085.64" y1="348.80" x2="1106.64" y2="348.80" stroke="#0a1a8a" stroke-width="2.5" />
<line x1="1124.58" y1="324.90" x2="1124.58" y2="354.90" stroke="#0a1a8a" stroke-width="2.5" />
<line x1="1114.08" y1="324.90" x2="1135.08" y2="324.90" stroke="#0a1a8a" stroke-width="2.5" />
<line x1="1114.08" y1="354.90" x2="1135.08" y2="354.90" stroke="#0a1a8a" stroke-width="2.5" />
<polyline points="788.30,293.60 925.50,294.80 1091.14,295.20" fill="none" stroke="#444444" stroke-width="2.8" stroke-linejoin="round" stroke-dasharray="7.7 2.6"/>
<line x1="783.30" y1="290.50" x2="783.30" y2="297.00" stroke="#444444" stroke-width="2" />
<line x1="778.30" y1="290.50" x2="788.30" y2="290.50" stroke="#444444" stroke-width="2" />
<line x1="778.30" y1="297.00" x2="788.30" y2="297.00" stroke="#444444" stroke-width="2" />
<line x1="925.50" y1="289.50" x2="925.50" y2="301.00" stroke="#444444" stroke-width="2" />
<line x1="920.50" y1="289.50" x2="930.50" y2="289.50" stroke="#444444" stroke-width="2" />
<line x1="920.50" y1="301.00" x2="930.50" y2="301.00" stroke="#444444" stroke-width="2" />
<line x1="1096.14" y1="282.80" x2="1096.14" y2="308.00" stroke="#444444" stroke-width="2.5" />
<line x1="1086.14" y1="282.80" x2="1106.14" y2="282.80" stroke="#444444" stroke-width="2.5" />
<line x1="1086.14" y1="308.00" x2="1106.14" y2="308.00" stroke="#444444" stroke-width="2.5" />
<circle cx="783.30" cy="293.6" r="4.5" fill="#fff" stroke="#444444" stroke-width="1.5"/>
<circle cx="925.50" cy="295" r="4.5" fill="none" stroke="#444444" stroke-width="1.2"/>
<circle cx="1096.14" cy="295.2" r="5" fill="#fff" stroke="#444444" stroke-width="1.5"/>
<line x1="843.40" y1="79.80" x2="900.00" y2="79.80" stroke="#f4564a" stroke-width="4.5" />
<rect x="861.7" y="70.3" width="18.8" height="19.2" fill="#f4564a"/>
<text x="908.50" y="88.00" font-size="20" text-anchor="start" fill="#f4564a" >Region S</text>
<text x="997.50" y="88.00" font-size="20" text-anchor="start" fill="#000" >(1550 nm)</text>
<line x1="843.40" y1="109.60" x2="900.00" y2="109.60" stroke="#0a1a8a" stroke-width="4.5" />
<circle cx="871.5" cy="109.6" r="10.3" fill="#0a1a8a"/>
<text x="908.50" y="117.50" font-size="20" text-anchor="start" fill="#0a1a8a" >Region D</text>
<text x="999.50" y="117.50" font-size="20" text-anchor="start" fill="#000" >(1550 nm)</text>
<line x1="843.40" y1="138.70" x2="893.60" y2="138.70" stroke="#444444" stroke-width="3" stroke-dasharray="7 4"/>
<circle cx="871" cy="138.7" r="4.8" fill="#fff" stroke="#444444" stroke-width="1.5"/>
<text x="909.50" y="146.30" font-size="20" text-anchor="start" fill="#555" >532 nm</text>
<text x="26.00" y="533.50" font-size="42" text-anchor="start" fill="#000" font-weight="bold" >c</text>
<rect x="95.6" y="524.2" width="445.9" height="370.29999999999995" fill="none" stroke="#000" stroke-width="1.6"/>
<line x1="91.60" y1="894.16" x2="95.60" y2="894.16" stroke="#000" stroke-width="1.6" />
<line x1="91.60" y1="878.57" x2="95.60" y2="878.57" stroke="#000" stroke-width="1.6" />
<line x1="91.60" y1="867.52" x2="95.60" y2="867.52" stroke="#000" stroke-width="1.6" />
<line x1="91.60" y1="858.94" x2="95.60" y2="858.94" stroke="#000" stroke-width="1.6" />
<line x1="91.60" y1="851.93" x2="95.60" y2="851.93" stroke="#000" stroke-width="1.6" />
<line x1="91.60" y1="846.01" x2="95.60" y2="846.01" stroke="#000" stroke-width="1.6" />
<line x1="91.60" y1="840.88" x2="95.60" y2="840.88" stroke="#000" stroke-width="1.6" />
<line x1="91.60" y1="836.35" x2="95.60" y2="836.35" stroke="#000" stroke-width="1.6" />
<line x1="88.10" y1="832.30" x2="95.60" y2="832.30" stroke="#000" stroke-width="1.6" />
<line x1="91.60" y1="805.66" x2="95.60" y2="805.66" stroke="#000" stroke-width="1.6" />
<line x1="91.60" y1="790.07" x2="95.60" y2="790.07" stroke="#000" stroke-width="1.6" />
<line x1="91.60" y1="779.02" x2="95.60" y2="779.02" stroke="#000" stroke-width="1.6" />
<line x1="91.60" y1="770.44" x2="95.60" y2="770.44" stroke="#000" stroke-width="1.6" />
<line x1="91.60" y1="763.43" x2="95.60" y2="763.43" stroke="#000" stroke-width="1.6" />
<line x1="91.60" y1="757.51" x2="95.60" y2="757.51" stroke="#000" stroke-width="1.6" />
<line x1="91.60" y1="752.38" x2="95.60" y2="752.38" stroke="#000" stroke-width="1.6" />
<line x1="91.60" y1="747.85" x2="95.60" y2="747.85" stroke="#000" stroke-width="1.6" />
<line x1="88.10" y1="743.80" x2="95.60" y2="743.80" stroke="#000" stroke-width="1.6" />
<line x1="91.60" y1="717.16" x2="95.60" y2="717.16" stroke="#000" stroke-width="1.6" />
<line x1="91.60" y1="701.57" x2="95.60" y2="701.57" stroke="#000" stroke-width="1.6" />
<line x1="91.60" y1="690.52" x2="95.60" y2="690.52" stroke="#000" stroke-width="1.6" />
<line x1="91.60" y1="681.94" x2="95.60" y2="681.94" stroke="#000" stroke-width="1.6" />
<line x1="91.60" y1="674.93" x2="95.60" y2="674.93" stroke="#000" stroke-width="1.6" />
<line x1="91.60" y1="669.01" x2="95.60" y2="669.01" stroke="#000" stroke-width="1.6" />
<line x1="91.60" y1="663.88" x2="95.60" y2="663.88" stroke="#000" stroke-width="1.6" />
<line x1="91.60" y1="659.35" x2="95.60" y2="659.35" stroke="#000" stroke-width="1.6" />
<line x1="88.10" y1="655.30" x2="95.60" y2="655.30" stroke="#000" stroke-width="1.6" />
<line x1="91.60" y1="628.66" x2="95.60" y2="628.66" stroke="#000" stroke-width="1.6" />
<line x1="91.60" y1="613.07" x2="95.60" y2="613.07" stroke="#000" stroke-width="1.6" />
<line x1="91.60" y1="602.02" x2="95.60" y2="602.02" stroke="#000" stroke-width="1.6" />
<line x1="91.60" y1="593.44" x2="95.60" y2="593.44" stroke="#000" stroke-width="1.6" />
<line x1="91.60" y1="586.43" x2="95.60" y2="586.43" stroke="#000" stroke-width="1.6" />
<line x1="91.60" y1="580.51" x2="95.60" y2="580.51" stroke="#000" stroke-width="1.6" />
<line x1="91.60" y1="575.38" x2="95.60" y2="575.38" stroke="#000" stroke-width="1.6" />
<line x1="91.60" y1="570.85" x2="95.60" y2="570.85" stroke="#000" stroke-width="1.6" />
<line x1="88.10" y1="566.80" x2="95.60" y2="566.80" stroke="#000" stroke-width="1.6" />
<line x1="91.60" y1="540.16" x2="95.60" y2="540.16" stroke="#000" stroke-width="1.6" />
<line x1="91.60" y1="524.57" x2="95.60" y2="524.57" stroke="#000" stroke-width="1.6" />
<text x="69.50" y="840.50" font-size="21" text-anchor="end" fill="#000" >10</text>
<text x="69.50" y="831.30" font-size="13" text-anchor="start" fill="#000" >-5</text>
<text x="69.50" y="752.00" font-size="21" text-anchor="end" fill="#000" >10</text>
<text x="69.50" y="742.80" font-size="13" text-anchor="start" fill="#000" >-4</text>
<text x="69.50" y="663.50" font-size="21" text-anchor="end" fill="#000" >10</text>
<text x="69.50" y="654.30" font-size="13" text-anchor="start" fill="#000" >-3</text>
<text x="69.50" y="575.00" font-size="21" text-anchor="end" fill="#000" >10</text>
<text x="69.50" y="565.80" font-size="13" text-anchor="start" fill="#000" >-2</text>
<line x1="96.00" y1="894.50" x2="96.00" y2="898.50" stroke="#000" stroke-width="1.6" />
<line x1="113.75" y1="894.50" x2="113.75" y2="898.50" stroke="#000" stroke-width="1.6" />
<line x1="129.40" y1="894.50" x2="129.40" y2="898.50" stroke="#000" stroke-width="1.6" />
<line x1="143.40" y1="894.50" x2="143.40" y2="901.50" stroke="#000" stroke-width="1.6" />
<line x1="235.52" y1="894.50" x2="235.52" y2="898.50" stroke="#000" stroke-width="1.6" />
<line x1="289.40" y1="894.50" x2="289.40" y2="898.50" stroke="#000" stroke-width="1.6" />
<line x1="327.63" y1="894.50" x2="327.63" y2="898.50" stroke="#000" stroke-width="1.6" />
<line x1="357.28" y1="894.50" x2="357.28" y2="898.50" stroke="#000" stroke-width="1.6" />
<line x1="381.51" y1="894.50" x2="381.51" y2="898.50" stroke="#000" stroke-width="1.6" />
<line x1="402.00" y1="894.50" x2="402.00" y2="898.50" stroke="#000" stroke-width="1.6" />
<line x1="419.75" y1="894.50" x2="419.75" y2="898.50" stroke="#000" stroke-width="1.6" />
<line x1="435.40" y1="894.50" x2="435.40" y2="898.50" stroke="#000" stroke-width="1.6" />
<line x1="449.40" y1="894.50" x2="449.40" y2="901.50" stroke="#000" stroke-width="1.6" />
<line x1="541.52" y1="894.50" x2="541.52" y2="898.50" stroke="#000" stroke-width="1.6" />
<text x="147.40" y="927.50" font-size="21" text-anchor="end" fill="#000" >10</text>
<text x="147.40" y="918.50" font-size="13" text-anchor="start" fill="#000" >-7</text>
<text x="453.40" y="927.50" font-size="21" text-anchor="end" fill="#000" >10</text>
<text x="453.40" y="918.50" font-size="13" text-anchor="start" fill="#000" >-6</text>
<text x="287.00" y="947.50" font-size="20" text-anchor="start" fill="#000" font-style="italic" >I</text>
<text x="294.00" y="952.00" font-size="14" text-anchor="start" fill="#000" font-style="italic" >ds</text>
<text x="323.00" y="947.50" font-size="20" text-anchor="start" fill="#000" >(A)</text>
<g transform="translate(41.3,784.3) rotate(-90)">
<text x="0.00" y="0.00" font-size="21.5" text-anchor="start" fill="#000" >abs(</text>
<text x="45.00" y="0.00" font-size="20" text-anchor="start" fill="#000" font-style="italic" >V</text>
<text x="56.50" y="6.00" font-size="15" text-anchor="start" fill="#000" font-style="italic" >H</text>
<text x="72.00" y="0.00" font-size="21.5" text-anchor="start" fill="#000" >)</text>
<text x="86.50" y="0.00" font-size="21.5" text-anchor="start" fill="#000" >(V)</text>
</g>
<polyline points="136.40,821.60 219.80,792.40 280.40,747.20 317.30,684.70 361.50,651.50 397.70,640.00 431.50,624.90 457.10,610.50 484.30,602.80 506.20,601.70" fill="none" stroke="#f03c3c" stroke-width="2" stroke-linejoin="round" />
<polyline points="136.40,804.00 219.80,778.50 280.40,769.70 317.30,708.80 361.50,691.20 397.70,676.50 431.50,668.70 457.10,656.40 484.30,651.90 506.20,648.20" fill="none" stroke="#10108a" stroke-width="2" stroke-linejoin="round" />
<line x1="136.40" y1="802.20" x2="136.40" y2="862.00" stroke="#f03c3c" stroke-width="2.8" />
<line x1="129.40" y1="802.20" x2="143.40" y2="802.20" stroke="#f03c3c" stroke-width="2.8" />
<line x1="129.40" y1="862.00" x2="143.40" y2="862.00" stroke="#f03c3c" stroke-width="2.8" />
<rect x="131.40" y="816.60" width="10" height="10" fill="#f03c3c"/>
<line x1="219.80" y1="772.70" x2="219.80" y2="833.30" stroke="#f03c3c" stroke-width="2.8" />
<line x1="212.80" y1="772.70" x2="226.80" y2="772.70" stroke="#f03c3c" stroke-width="2.8" />
<line x1="212.80" y1="833.30" x2="226.80" y2="833.30" stroke="#f03c3c" stroke-width="2.8" />
<rect x="214.80" y="787.40" width="10" height="10" fill="#f03c3c"/>
<line x1="280.40" y1="744.00" x2="280.40" y2="750.50" stroke="#f03c3c" stroke-width="2.8" />
<line x1="273.40" y1="744.00" x2="287.40" y2="744.00" stroke="#f03c3c" stroke-width="2.8" />
<line x1="273.40" y1="750.50" x2="287.40" y2="750.50" stroke="#f03c3c" stroke-width="2.8" />
<rect x="275.40" y="742.20" width="10" height="10" fill="#f03c3c"/>
<line x1="317.30" y1="675.40" x2="317.30" y2="692.90" stroke="#f03c3c" stroke-width="2.8" />
<line x1="310.30" y1="675.40" x2="324.30" y2="675.40" stroke="#f03c3c" stroke-width="2.8" />
<line x1="310.30" y1="692.90" x2="324.30" y2="692.90" stroke="#f03c3c" stroke-width="2.8" />
<rect x="312.30" y="679.70" width="10" height="10" fill="#f03c3c"/>
<line x1="361.50" y1="642.30" x2="361.50" y2="663.20" stroke="#f03c3c" stroke-width="2.8" />
<line x1="354.50" y1="642.30" x2="368.50" y2="642.30" stroke="#f03c3c" stroke-width="2.8" />
<line x1="354.50" y1="663.20" x2="368.50" y2="663.20" stroke="#f03c3c" stroke-width="2.8" />
<rect x="356.50" y="646.50" width="10" height="10" fill="#f03c3c"/>
<line x1="397.70" y1="631.00" x2="397.70" y2="649.90" stroke="#f03c3c" stroke-width="2.8" />
<line x1="390.70" y1="631.00" x2="404.70" y2="631.00" stroke="#f03c3c" stroke-width="2.8" />
<line x1="390.70" y1="649.90" x2="404.70" y2="649.90" stroke="#f03c3c" stroke-width="2.8" />
<rect x="392.70" y="635.00" width="10" height="10" fill="#f03c3c"/>
<line x1="431.50" y1="616.10" x2="431.50" y2="635.50" stroke="#f03c3c" stroke-width="2.8" />
<line x1="424.50" y1="616.10" x2="438.50" y2="616.10" stroke="#f03c3c" stroke-width="2.8" />
<line x1="424.50" y1="635.50" x2="438.50" y2="635.50" stroke="#f03c3c" stroke-width="2.8" />
<rect x="426.50" y="619.90" width="10" height="10" fill="#f03c3c"/>
<line x1="457.10" y1="602.80" x2="457.10" y2="619.10" stroke="#f03c3c" stroke-width="2.8" />
<line x1="450.10" y1="602.80" x2="464.10" y2="602.80" stroke="#f03c3c" stroke-width="2.8" />
<line x1="450.10" y1="619.10" x2="464.10" y2="619.10" stroke="#f03c3c" stroke-width="2.8" />
<rect x="452.10" y="605.50" width="10" height="10" fill="#f03c3c"/>
<line x1="484.30" y1="594.20" x2="484.30" y2="613.40" stroke="#f03c3c" stroke-width="2.8" />
<line x1="477.30" y1="594.20" x2="491.30" y2="594.20" stroke="#f03c3c" stroke-width="2.8" />
<line x1="477.30" y1="613.40" x2="491.30" y2="613.40" stroke="#f03c3c" stroke-width="2.8" />
<rect x="479.30" y="597.80" width="10" height="10" fill="#f03c3c"/>
<line x1="506.20" y1="593.50" x2="506.20" y2="612.00" stroke="#f03c3c" stroke-width="2.8" />
<line x1="499.20" y1="593.50" x2="513.20" y2="593.50" stroke="#f03c3c" stroke-width="2.8" />
<line x1="499.20" y1="612.00" x2="513.20" y2="612.00" stroke="#f03c3c" stroke-width="2.8" />
<rect x="501.20" y="596.70" width="10" height="10" fill="#f03c3c"/>
<line x1="136.40" y1="787.30" x2="136.40" y2="834.20" stroke="#10108a" stroke-width="2.8" />
<line x1="129.40" y1="787.30" x2="143.40" y2="787.30" stroke="#10108a" stroke-width="2.8" />
<line x1="129.40" y1="834.20" x2="143.40" y2="834.20" stroke="#10108a" stroke-width="2.8" />
<path d="M136.40,797.50 L142.90,804.00 L136.40,810.50 L129.90,804.00 Z" fill="#10108a"/>
<line x1="219.80" y1="765.30" x2="219.80" y2="798.20" stroke="#10108a" stroke-width="2.8" />
<line x1="212.80" y1="765.30" x2="226.80" y2="765.30" stroke="#10108a" stroke-width="2.8" />
<line x1="212.80" y1="798.20" x2="226.80" y2="798.20" stroke="#10108a" stroke-width="2.8" />
<path d="M219.80,772.00 L226.30,778.50 L219.80,785.00 L213.30,778.50 Z" fill="#10108a"/>
<line x1="280.40" y1="757.30" x2="280.40" y2="785.40" stroke="#10108a" stroke-width="2.8" />
<line x1="273.40" y1="757.30" x2="287.40" y2="757.30" stroke="#10108a" stroke-width="2.8" />
<line x1="273.40" y1="785.40" x2="287.40" y2="785.40" stroke="#10108a" stroke-width="2.8" />
<path d="M280.40,763.20 L286.90,769.70 L280.40,776.20 L273.90,769.70 Z" fill="#10108a"/>
<line x1="317.30" y1="700.00" x2="317.30" y2="721.10" stroke="#10108a" stroke-width="2.8" />
<line x1="310.30" y1="700.00" x2="324.30" y2="700.00" stroke="#10108a" stroke-width="2.8" />
<line x1="310.30" y1="721.10" x2="324.30" y2="721.10" stroke="#10108a" stroke-width="2.8" />
<path d="M317.30,702.30 L323.80,708.80 L317.30,715.30 L310.80,708.80 Z" fill="#10108a"/>
<line x1="361.50" y1="685.10" x2="361.50" y2="698.00" stroke="#10108a" stroke-width="2.8" />
<line x1="354.50" y1="685.10" x2="368.50" y2="685.10" stroke="#10108a" stroke-width="2.8" />
<line x1="354.50" y1="698.00" x2="368.50" y2="698.00" stroke="#10108a" stroke-width="2.8" />
<path d="M361.50,684.70 L368.00,691.20 L361.50,697.70 L355.00,691.20 Z" fill="#10108a"/>
<line x1="397.70" y1="669.70" x2="397.70" y2="683.60" stroke="#10108a" stroke-width="2.8" />
<line x1="390.70" y1="669.70" x2="404.70" y2="669.70" stroke="#10108a" stroke-width="2.8" />
<line x1="390.70" y1="683.60" x2="404.70" y2="683.60" stroke="#10108a" stroke-width="2.8" />
<path d="M397.70,670.00 L404.20,676.50 L397.70,683.00 L391.20,676.50 Z" fill="#10108a"/>
<line x1="431.50" y1="662.50" x2="431.50" y2="675.40" stroke="#10108a" stroke-width="2.8" />
<line x1="424.50" y1="662.50" x2="438.50" y2="662.50" stroke="#10108a" stroke-width="2.8" />
<line x1="424.50" y1="675.40" x2="438.50" y2="675.40" stroke="#10108a" stroke-width="2.8" />
<path d="M431.50,662.20 L438.00,668.70 L431.50,675.20 L425.00,668.70 Z" fill="#10108a"/>
<line x1="457.10" y1="650.30" x2="457.10" y2="663.20" stroke="#10108a" stroke-width="2.8" />
<line x1="450.10" y1="650.30" x2="464.10" y2="650.30" stroke="#10108a" stroke-width="2.8" />
<line x1="450.10" y1="663.20" x2="464.10" y2="663.20" stroke="#10108a" stroke-width="2.8" />
<path d="M457.10,649.90 L463.60,656.40 L457.10,662.90 L450.60,656.40 Z" fill="#10108a"/>
<line x1="484.30" y1="643.30" x2="484.30" y2="661.10" stroke="#10108a" stroke-width="2.8" />
<line x1="477.30" y1="643.30" x2="491.30" y2="643.30" stroke="#10108a" stroke-width="2.8" />
<line x1="477.30" y1="661.10" x2="491.30" y2="661.10" stroke="#10108a" stroke-width="2.8" />
<path d="M484.30,645.40 L490.80,651.90 L484.30,658.40 L477.80,651.90 Z" fill="#10108a"/>
<line x1="506.20" y1="640.00" x2="506.20" y2="657.60" stroke="#10108a" stroke-width="2.8" />
<line x1="499.20" y1="640.00" x2="513.20" y2="640.00" stroke="#10108a" stroke-width="2.8" />
<line x1="499.20" y1="657.60" x2="513.20" y2="657.60" stroke="#10108a" stroke-width="2.8" />
<path d="M506.20,641.70 L512.70,648.20 L506.20,654.70 L499.70,648.20 Z" fill="#10108a"/>
<rect x="95.6" y="524.2" width="203.20000000000002" height="171.79999999999995" fill="#fff" stroke="#000" stroke-width="1.6"/>
<line x1="96.30" y1="696.00" x2="96.30" y2="699.00" stroke="#000" stroke-width="1.5" />
<line x1="129.80" y1="696.00" x2="129.80" y2="701.00" stroke="#000" stroke-width="1.5" />
<line x1="163.30" y1="696.00" x2="163.30" y2="699.00" stroke="#000" stroke-width="1.5" />
<line x1="196.80" y1="696.00" x2="196.80" y2="701.00" stroke="#000" stroke-width="1.5" />
<line x1="230.30" y1="696.00" x2="230.30" y2="699.00" stroke="#000" stroke-width="1.5" />
<line x1="263.80" y1="696.00" x2="263.80" y2="701.00" stroke="#000" stroke-width="1.5" />
<line x1="297.30" y1="696.00" x2="297.30" y2="699.00" stroke="#000" stroke-width="1.5" />
<text x="128.80" y="717.80" font-size="17" text-anchor="middle" fill="#000" >-40</text>
<text x="195.80" y="717.80" font-size="17" text-anchor="middle" fill="#000" >0</text>
<text x="262.80" y="717.80" font-size="17" text-anchor="middle" fill="#000" >40</text>
<text x="183.00" y="730.00" font-size="17" text-anchor="start" fill="#000" font-style="italic" >V</text>
<text x="194.00" y="736.00" font-size="12" text-anchor="start" fill="#000" font-style="italic" >g</text>
<text x="208.00" y="730.00" font-size="17" text-anchor="start" fill="#000" >(V)</text>
<line x1="298.80" y1="688.27" x2="300.80" y2="688.27" stroke="#000" stroke-width="1.3" />
<line x1="298.80" y1="683.19" x2="300.80" y2="683.19" stroke="#000" stroke-width="1.3" />
<line x1="298.80" y1="679.58" x2="300.80" y2="679.58" stroke="#000" stroke-width="1.3" />
<line x1="298.80" y1="676.78" x2="300.80" y2="676.78" stroke="#000" stroke-width="1.3" />
<line x1="298.80" y1="674.50" x2="300.80" y2="674.50" stroke="#000" stroke-width="1.3" />
<line x1="298.80" y1="672.57" x2="300.80" y2="672.57" stroke="#000" stroke-width="1.3" />
<line x1="298.80" y1="670.90" x2="300.80" y2="670.90" stroke="#000" stroke-width="1.3" />
<line x1="298.80" y1="669.42" x2="300.80" y2="669.42" stroke="#000" stroke-width="1.3" />
<line x1="298.80" y1="668.10" x2="304.80" y2="668.10" stroke="#000" stroke-width="1.3" />
<line x1="298.80" y1="659.42" x2="300.80" y2="659.42" stroke="#000" stroke-width="1.3" />
<line x1="298.80" y1="654.34" x2="300.80" y2="654.34" stroke="#000" stroke-width="1.3" />
<line x1="298.80" y1="650.73" x2="300.80" y2="650.73" stroke="#000" stroke-width="1.3" />
<line x1="298.80" y1="647.93" x2="300.80" y2="647.93" stroke="#000" stroke-width="1.3" />
<line x1="298.80" y1="645.65" x2="300.80" y2="645.65" stroke="#000" stroke-width="1.3" />
<line x1="298.80" y1="643.72" x2="300.80" y2="643.72" stroke="#000" stroke-width="1.3" />
<line x1="298.80" y1="642.05" x2="300.80" y2="642.05" stroke="#000" stroke-width="1.3" />
<line x1="298.80" y1="640.57" x2="300.80" y2="640.57" stroke="#000" stroke-width="1.3" />
<line x1="298.80" y1="639.25" x2="302.80" y2="639.25" stroke="#000" stroke-width="1.3" />
<line x1="298.80" y1="630.57" x2="300.80" y2="630.57" stroke="#000" stroke-width="1.3" />
<line x1="298.80" y1="625.49" x2="300.80" y2="625.49" stroke="#000" stroke-width="1.3" />
<line x1="298.80" y1="621.88" x2="300.80" y2="621.88" stroke="#000" stroke-width="1.3" />
<line x1="298.80" y1="619.08" x2="300.80" y2="619.08" stroke="#000" stroke-width="1.3" />
<line x1="298.80" y1="616.80" x2="300.80" y2="616.80" stroke="#000" stroke-width="1.3" />
<line x1="298.80" y1="614.87" x2="300.80" y2="614.87" stroke="#000" stroke-width="1.3" />
<line x1="298.80" y1="613.20" x2="300.80" y2="613.20" stroke="#000" stroke-width="1.3" />
<line x1="298.80" y1="611.72" x2="300.80" y2="611.72" stroke="#000" stroke-width="1.3" />
<line x1="298.80" y1="610.40" x2="302.80" y2="610.40" stroke="#000" stroke-width="1.3" />
<line x1="298.80" y1="601.72" x2="300.80" y2="601.72" stroke="#000" stroke-width="1.3" />
<line x1="298.80" y1="596.64" x2="300.80" y2="596.64" stroke="#000" stroke-width="1.3" />
<line x1="298.80" y1="593.03" x2="300.80" y2="593.03" stroke="#000" stroke-width="1.3" />
<line x1="298.80" y1="590.23" x2="300.80" y2="590.23" stroke="#000" stroke-width="1.3" />
<line x1="298.80" y1="587.95" x2="300.80" y2="587.95" stroke="#000" stroke-width="1.3" />
<line x1="298.80" y1="586.02" x2="300.80" y2="586.02" stroke="#000" stroke-width="1.3" />
<line x1="298.80" y1="584.35" x2="300.80" y2="584.35" stroke="#000" stroke-width="1.3" />
<line x1="298.80" y1="582.87" x2="300.80" y2="582.87" stroke="#000" stroke-width="1.3" />
<line x1="298.80" y1="581.55" x2="302.80" y2="581.55" stroke="#000" stroke-width="1.3" />
<line x1="298.80" y1="572.87" x2="300.80" y2="572.87" stroke="#000" stroke-width="1.3" />
<line x1="298.80" y1="567.79" x2="300.80" y2="567.79" stroke="#000" stroke-width="1.3" />
<line x1="298.80" y1="564.18" x2="300.80" y2="564.18" stroke="#000" stroke-width="1.3" />
<line x1="298.80" y1="561.38" x2="300.80" y2="561.38" stroke="#000" stroke-width="1.3" />
<line x1="298.80" y1="559.10" x2="300.80" y2="559.10" stroke="#000" stroke-width="1.3" />
<line x1="298.80" y1="557.17" x2="300.80" y2="557.17" stroke="#000" stroke-width="1.3" />
<line x1="298.80" y1="555.50" x2="300.80" y2="555.50" stroke="#000" stroke-width="1.3" />
<line x1="298.80" y1="554.02" x2="300.80" y2="554.02" stroke="#000" stroke-width="1.3" />
<line x1="298.80" y1="552.70" x2="304.80" y2="552.70" stroke="#000" stroke-width="1.3" />
<line x1="298.80" y1="544.02" x2="300.80" y2="544.02" stroke="#000" stroke-width="1.3" />
<line x1="298.80" y1="538.94" x2="300.80" y2="538.94" stroke="#000" stroke-width="1.3" />
<line x1="298.80" y1="535.33" x2="300.80" y2="535.33" stroke="#000" stroke-width="1.3" />
<line x1="298.80" y1="532.53" x2="300.80" y2="532.53" stroke="#000" stroke-width="1.3" />
<line x1="298.80" y1="530.25" x2="300.80" y2="530.25" stroke="#000" stroke-width="1.3" />
<line x1="298.80" y1="528.32" x2="300.80" y2="528.32" stroke="#000" stroke-width="1.3" />
<line x1="298.80" y1="526.65" x2="300.80" y2="526.65" stroke="#000" stroke-width="1.3" />
<line x1="298.80" y1="525.17" x2="300.80" y2="525.17" stroke="#000" stroke-width="1.3" />
<text x="306.00" y="556.00" font-size="17" text-anchor="start" fill="#000" >10</text>
<text x="325.00" y="549.00" font-size="11" text-anchor="start" fill="#000" >-6</text>
<text x="306.00" y="670.00" font-size="17" text-anchor="start" fill="#000" >10</text>
<text x="325.00" y="663.50" font-size="11" text-anchor="start" fill="#000" >-10</text>
<g transform="translate(348.5,648.5) rotate(-90) scale(0.92,1)">
<text x="0.00" y="0.00" font-size="19.5" text-anchor="start" fill="#000" >abs(</text>
<text x="36.50" y="0.00" font-size="19.5" text-anchor="start" fill="#000" font-style="italic" >I</text>
<text x="43.50" y="0.50" font-size="19.5" text-anchor="start" fill="#000" >ds</text>
<text x="65.00" y="0.00" font-size="19.5" text-anchor="start" fill="#000" >)</text>
<text x="78.00" y="0.00" font-size="19.5" text-anchor="start" fill="#000" >(A)</text>
</g>
<path d="M111.50,670.20 C113.75,670.13 120.25,669.90 125.00,669.80 C129.75,669.70 134.25,669.60 140.00,669.60 C145.75,669.60 156.25,669.77 159.50,669.80" fill="none" stroke="#10108a" stroke-width="5" stroke-linecap="round"/>
<path d="M159.5,669.5 L161.8,688.5 L163.5,669" fill="none" stroke="#10108a" stroke-width="4" stroke-linecap="round" stroke-linejoin="round"/>
<path d="M163.30,672.00 C163.50,669.17 164.02,660.33 164.50,655.00 C164.98,649.67 165.53,645.00 166.20,640.00 C166.87,635.00 167.62,630.00 168.50,625.00 C169.38,620.00 170.42,614.42 171.50,610.00 C172.58,605.58 173.58,602.00 175.00,598.50 C176.42,595.00 178.17,591.75 180.00,589.00 C181.83,586.25 183.95,584.00 186.00,582.00 C188.05,580.00 189.63,578.92 192.30,577.00 C194.97,575.08 198.58,572.47 202.00,570.50 C205.42,568.53 209.30,566.87 212.80,565.20 C216.30,563.53 219.60,561.95 223.00,560.50 C226.40,559.05 229.87,557.67 233.20,556.50 C236.53,555.33 239.58,554.42 243.00,553.50 C246.42,552.58 249.53,552.00 253.70,551.00 C257.87,550.00 263.23,548.70 268.00,547.50 C272.77,546.30 279.92,544.42 282.30,543.80" fill="none" stroke="#10108a" stroke-width="5" stroke-linecap="round"/>
<text x="360.50" y="778.50" font-size="21" text-anchor="start" fill="#000" font-style="italic" >V</text>
<text x="374.00" y="788.50" font-size="14.5" text-anchor="start" fill="#000" font-style="italic" >ds</text>
<text x="393.00" y="778.50" font-size="21" text-anchor="start" fill="#000" >= 1.6 V</text>
<line x1="347.00" y1="828.10" x2="395.90" y2="828.10" stroke="#f03c3c" stroke-width="1.6" />
<rect x="366" y="823.3" width="10" height="9.6" fill="#f03c3c"/>
<text x="399.50" y="835.50" font-size="21.5" text-anchor="start" fill="#f03c3c" >Drift</text>
<line x1="347.00" y1="854.60" x2="395.90" y2="854.60" stroke="#10108a" stroke-width="1.6" />
<path d="M371.2,847.8 L377.5,854.6 L371.2,861.2 L365,854.6 Z" fill="#10108a"/>
<text x="399.50" y="862.00" font-size="21.5" text-anchor="start" fill="#10108a" >Diffusion</text>
<text x="625.50" y="540.00" font-size="42" text-anchor="start" fill="#000" font-weight="bold" >d</text>
<line x1="712.70" y1="523.20" x2="1166.90" y2="523.20" stroke="#000" stroke-width="2" />
<line x1="712.70" y1="896.20" x2="1166.90" y2="896.20" stroke="#000" stroke-width="2" />
<line x1="712.70" y1="523.20" x2="712.70" y2="896.20" stroke="#f04848" stroke-width="1.8" />
<line x1="1166.90" y1="523.20" x2="1166.90" y2="896.20" stroke="#1a1a8a" stroke-width="1.8" />
<line x1="700.20" y1="826.20" x2="712.70" y2="826.20" stroke="#f04848" stroke-width="1.8" />
<text x="692.00" y="833.70" font-size="21" text-anchor="end" fill="#f04848" >0</text>
<line x1="700.20" y1="745.20" x2="712.70" y2="745.20" stroke="#f04848" stroke-width="1.8" />
<text x="692.00" y="752.70" font-size="21" text-anchor="end" fill="#f04848" >40</text>
<line x1="700.20" y1="664.20" x2="712.70" y2="664.20" stroke="#f04848" stroke-width="1.8" />
<text x="692.00" y="671.70" font-size="21" text-anchor="end" fill="#f04848" >80</text>
<line x1="700.20" y1="583.20" x2="712.70" y2="583.20" stroke="#f04848" stroke-width="1.8" />
<text x="692.00" y="590.70" font-size="21" text-anchor="end" fill="#f04848" >120</text>
<line x1="706.70" y1="866.70" x2="712.70" y2="866.70" stroke="#f04848" stroke-width="1.8" />
<line x1="706.70" y1="785.70" x2="712.70" y2="785.70" stroke="#f04848" stroke-width="1.8" />
<line x1="706.70" y1="704.70" x2="712.70" y2="704.70" stroke="#f04848" stroke-width="1.8" />
<line x1="706.70" y1="623.70" x2="712.70" y2="623.70" stroke="#f04848" stroke-width="1.8" />
<line x1="706.70" y1="542.70" x2="712.70" y2="542.70" stroke="#f04848" stroke-width="1.8" />
<line x1="1166.90" y1="840.00" x2="1179.40" y2="840.00" stroke="#1a1a8a" stroke-width="1.8" />
<text x="1181.00" y="846.50" font-size="21" text-anchor="start" fill="#1a1a8a" >0</text>
<line x1="1166.90" y1="713.08" x2="1179.40" y2="713.08" stroke="#1a1a8a" stroke-width="1.8" />
<text x="1181.00" y="719.58" font-size="21" text-anchor="start" fill="#1a1a8a" >400</text>
<line x1="1166.90" y1="586.16" x2="1179.40" y2="586.16" stroke="#1a1a8a" stroke-width="1.8" />
<text x="1181.00" y="592.66" font-size="21" text-anchor="start" fill="#1a1a8a" >800</text>
<line x1="1166.90" y1="776.54" x2="1172.90" y2="776.54" stroke="#1a1a8a" stroke-width="1.8" />
<line x1="1166.90" y1="649.62" x2="1172.90" y2="649.62" stroke="#1a1a8a" stroke-width="1.8" />
<line x1="1166.90" y1="522.70" x2="1172.90" y2="522.70" stroke="#1a1a8a" stroke-width="1.8" />
<line x1="736.50" y1="896.20" x2="736.50" y2="908.70" stroke="#000" stroke-width="2" />
<text x="734.50" y="930.00" font-size="20.5" text-anchor="middle" fill="#000" >-40</text>
<line x1="832.30" y1="896.20" x2="832.30" y2="908.70" stroke="#000" stroke-width="2" />
<text x="830.30" y="930.00" font-size="20.5" text-anchor="middle" fill="#000" >-20</text>
<line x1="928.10" y1="896.20" x2="928.10" y2="908.70" stroke="#000" stroke-width="2" />
<text x="926.10" y="930.00" font-size="20.5" text-anchor="middle" fill="#000" >0</text>
<line x1="1023.90" y1="896.20" x2="1023.90" y2="908.70" stroke="#000" stroke-width="2" />
<text x="1021.90" y="930.00" font-size="20.5" text-anchor="middle" fill="#000" >20</text>
<line x1="1119.70" y1="896.20" x2="1119.70" y2="908.70" stroke="#000" stroke-width="2" />
<text x="1117.70" y="930.00" font-size="20.5" text-anchor="middle" fill="#000" >40</text>
<line x1="784.40" y1="896.20" x2="784.40" y2="903.20" stroke="#000" stroke-width="2" />
<line x1="880.20" y1="896.20" x2="880.20" y2="903.20" stroke="#000" stroke-width="2" />
<line x1="976.00" y1="896.20" x2="976.00" y2="903.20" stroke="#000" stroke-width="2" />
<line x1="1071.80" y1="896.20" x2="1071.80" y2="903.20" stroke="#000" stroke-width="2" />
<line x1="1167.60" y1="896.20" x2="1167.60" y2="903.20" stroke="#000" stroke-width="2" />
<text x="916.50" y="954.50" font-size="20.5" text-anchor="start" fill="#000" font-style="italic" >V</text>
<text x="929.50" y="961.00" font-size="14" text-anchor="start" fill="#000" font-style="italic" >g</text>
<text x="952.50" y="954.50" font-size="20.5" text-anchor="start" fill="#000" >(V)</text>
<g transform="translate(646.5,754) rotate(-90)">
<text x="0.00" y="0.00" font-size="20.5" text-anchor="start" fill="#f04848" font-style="italic" >V</text>
<text x="14.00" y="5.50" font-size="14" text-anchor="start" fill="#f04848" font-style="italic" >H</text>
<text x="46.50" y="0.00" font-size="20.5" text-anchor="start" fill="#f04848" >(μV)</text>
</g>
<g transform="translate(1235,669) rotate(90)">
<text x="0.00" y="0.00" font-size="21.5" text-anchor="start" fill="#1a1a8a" dominant-baseline="auto">Current (pA)</text>
</g>
<text x="716.00" y="713.50" font-size="21.4" text-anchor="start" fill="#f04848" >ON/OFF ratio ~ 100</text>
<text x="1063.00" y="548.50" font-size="20.5" text-anchor="start" fill="#000" font-style="italic" >V</text>
<text x="1078.00" y="558.00" font-size="14" text-anchor="start" fill="#000" font-style="italic" >ds</text>
<text x="1103.00" y="548.50" font-size="20.5" text-anchor="start" fill="#000" >= 0 V</text>
<defs><radialGradient id="sph" cx="0.5" cy="0.5" r="0.5" fx="0.33" fy="0.3">
<stop offset="0" stop-color="#ffffff"/><stop offset="0.12" stop-color="#ffe0e0"/><stop offset="0.3" stop-color="#f45a5a"/><stop offset="0.7" stop-color="#f03a3a"/><stop offset="1" stop-color="#e43232"/></radialGradient></defs>
<polyline points="736.50,825.00 784.40,825.00 832.30,842.40 880.20,803.70 928.10,801.80 976.00,768.00 999.95,763.50 1047.85,741.10 1071.80,729.70 1095.75,743.30 1119.70,748.30 1143.65,727.90" fill="none" stroke="#f04848" stroke-width="2" stroke-linejoin="round" />
<polyline points="736.50,824.80 784.40,824.80 832.30,824.80 880.20,825.30 904.15,824.30 928.10,782.60 952.05,772.50 976.00,737.60 999.95,686.60 1023.90,661.70 1047.85,630.20 1071.80,655.20 1095.75,605.10" fill="none" stroke="#f04848" stroke-width="2" stroke-linejoin="round" />
<line x1="976.00" y1="751.80" x2="976.00" y2="789.40" stroke="#f04848" stroke-width="2.6" />
<line x1="968.75" y1="751.80" x2="983.25" y2="751.80" stroke="#f04848" stroke-width="2.6" />
<line x1="968.75" y1="789.40" x2="983.25" y2="789.40" stroke="#f04848" stroke-width="2.6" />
<line x1="999.95" y1="751.10" x2="999.95" y2="776.60" stroke="#f04848" stroke-width="2.6" />
<line x1="992.70" y1="751.10" x2="1007.20" y2="751.10" stroke="#f04848" stroke-width="2.6" />
<line x1="992.70" y1="776.60" x2="1007.20" y2="776.60" stroke="#f04848" stroke-width="2.6" />
<line x1="1047.85" y1="706.40" x2="1047.85" y2="776.20" stroke="#f04848" stroke-width="2.6" />
<line x1="1040.60" y1="706.40" x2="1055.10" y2="706.40" stroke="#f04848" stroke-width="2.6" />
<line x1="1040.60" y1="776.20" x2="1055.10" y2="776.20" stroke="#f04848" stroke-width="2.6" />
<line x1="1071.80" y1="694.60" x2="1071.80" y2="763.70" stroke="#f04848" stroke-width="2.6" />
<line x1="1064.55" y1="694.60" x2="1079.05" y2="694.60" stroke="#f04848" stroke-width="2.6" />
<line x1="1064.55" y1="763.70" x2="1079.05" y2="763.70" stroke="#f04848" stroke-width="2.6" />
<line x1="1095.75" y1="706.40" x2="1095.75" y2="779.10" stroke="#f04848" stroke-width="2.6" />
<line x1="1088.50" y1="706.40" x2="1103.00" y2="706.40" stroke="#f04848" stroke-width="2.6" />
<line x1="1088.50" y1="779.10" x2="1103.00" y2="779.10" stroke="#f04848" stroke-width="2.6" />
<line x1="1119.70" y1="708.90" x2="1119.70" y2="787.70" stroke="#f04848" stroke-width="2.6" />
<line x1="1112.45" y1="708.90" x2="1126.95" y2="708.90" stroke="#f04848" stroke-width="2.6" />
<line x1="1112.45" y1="787.70" x2="1126.95" y2="787.70" stroke="#f04848" stroke-width="2.6" />
<line x1="1143.65" y1="680.30" x2="1143.65" y2="776.20" stroke="#f04848" stroke-width="2.6" />
<line x1="1136.40" y1="680.30" x2="1150.90" y2="680.30" stroke="#f04848" stroke-width="2.6" />
<line x1="1136.40" y1="776.20" x2="1150.90" y2="776.20" stroke="#f04848" stroke-width="2.6" />
<line x1="928.10" y1="764.00" x2="928.10" y2="782.60" stroke="#f04848" stroke-width="2.6" />
<line x1="920.85" y1="764.00" x2="935.35" y2="764.00" stroke="#f04848" stroke-width="2.6" />
<line x1="920.85" y1="782.60" x2="935.35" y2="782.60" stroke="#f04848" stroke-width="2.6" />
<line x1="952.05" y1="759.00" x2="952.05" y2="786.50" stroke="#f04848" stroke-width="2.6" />
<line x1="944.80" y1="759.00" x2="959.30" y2="759.00" stroke="#f04848" stroke-width="2.6" />
<line x1="944.80" y1="786.50" x2="959.30" y2="786.50" stroke="#f04848" stroke-width="2.6" />
<line x1="976.00" y1="725.30" x2="976.00" y2="752.30" stroke="#f04848" stroke-width="2.6" />
<line x1="968.75" y1="725.30" x2="983.25" y2="725.30" stroke="#f04848" stroke-width="2.6" />
<line x1="968.75" y1="752.30" x2="983.25" y2="752.30" stroke="#f04848" stroke-width="2.6" />
<line x1="999.95" y1="672.40" x2="999.95" y2="701.20" stroke="#f04848" stroke-width="2.6" />
<line x1="992.70" y1="672.40" x2="1007.20" y2="672.40" stroke="#f04848" stroke-width="2.6" />
<line x1="992.70" y1="701.20" x2="1007.20" y2="701.20" stroke="#f04848" stroke-width="2.6" />
<line x1="1023.90" y1="646.30" x2="1023.90" y2="675.30" stroke="#f04848" stroke-width="2.6" />
<line x1="1016.65" y1="646.30" x2="1031.15" y2="646.30" stroke="#f04848" stroke-width="2.6" />
<line x1="1016.65" y1="675.30" x2="1031.15" y2="675.30" stroke="#f04848" stroke-width="2.6" />
<line x1="1047.85" y1="600.10" x2="1047.85" y2="661.00" stroke="#f04848" stroke-width="2.6" />
<line x1="1040.60" y1="600.10" x2="1055.10" y2="600.10" stroke="#f04848" stroke-width="2.6" />
<line x1="1040.60" y1="661.00" x2="1055.10" y2="661.00" stroke="#f04848" stroke-width="2.6" />
<line x1="1071.80" y1="609.10" x2="1071.80" y2="702.90" stroke="#f04848" stroke-width="2.6" />
<line x1="1064.55" y1="609.10" x2="1079.05" y2="609.10" stroke="#f04848" stroke-width="2.6" />
<line x1="1064.55" y1="702.90" x2="1079.05" y2="702.90" stroke="#f04848" stroke-width="2.6" />
<line x1="1095.75" y1="562.20" x2="1095.75" y2="646.70" stroke="#f04848" stroke-width="2.6" />
<line x1="1088.50" y1="562.20" x2="1103.00" y2="562.20" stroke="#f04848" stroke-width="2.6" />
<line x1="1088.50" y1="646.70" x2="1103.00" y2="646.70" stroke="#f04848" stroke-width="2.6" />
<circle cx="736.50" cy="825.00" r="9.6" fill="#fff" stroke="#f04848" stroke-width="2.8"/>
<circle cx="784.40" cy="825.00" r="9.6" fill="#fff" stroke="#f04848" stroke-width="2.8"/>
<circle cx="832.30" cy="842.40" r="9.6" fill="#fff" stroke="#f04848" stroke-width="2.8"/>
<circle cx="880.20" cy="803.70" r="9.6" fill="#fff" stroke="#f04848" stroke-width="2.8"/>
<circle cx="928.10" cy="801.80" r="9.6" fill="#fff" stroke="#f04848" stroke-width="2.8"/>
<circle cx="976.00" cy="768.00" r="9.6" fill="#fff" stroke="#f04848" stroke-width="2.8"/>
<circle cx="999.95" cy="763.50" r="9.6" fill="#fff" stroke="#f04848" stroke-width="2.8"/>
<circle cx="1047.85" cy="741.10" r="9.6" fill="#fff" stroke="#f04848" stroke-width="2.8"/>
<circle cx="1071.80" cy="729.70" r="9.6" fill="#fff" stroke="#f04848" stroke-width="2.8"/>
<circle cx="1095.75" cy="743.30" r="9.6" fill="#fff" stroke="#f04848" stroke-width="2.8"/>
<circle cx="1119.70" cy="748.30" r="9.6" fill="#fff" stroke="#f04848" stroke-width="2.8"/>
<circle cx="1143.65" cy="727.90" r="9.6" fill="#fff" stroke="#f04848" stroke-width="2.8"/>
<circle cx="736.50" cy="824.80" r="10.3" fill="url(#sph)"/>
<circle cx="784.40" cy="824.80" r="10.3" fill="url(#sph)"/>
<circle cx="832.30" cy="824.80" r="10.3" fill="url(#sph)"/>
<circle cx="880.20" cy="825.30" r="10.3" fill="url(#sph)"/>
<circle cx="904.15" cy="824.30" r="10.3" fill="url(#sph)"/>
<circle cx="928.10" cy="782.60" r="10.3" fill="url(#sph)"/>
<circle cx="952.05" cy="772.50" r="10.3" fill="url(#sph)"/>
<circle cx="976.00" cy="737.60" r="10.3" fill="url(#sph)"/>
<circle cx="999.95" cy="686.60" r="10.3" fill="url(#sph)"/>
<circle cx="1023.90" cy="661.70" r="10.3" fill="url(#sph)"/>
<circle cx="1047.85" cy="630.20" r="10.3" fill="url(#sph)"/>
<circle cx="1071.80" cy="655.20" r="10.3" fill="url(#sph)"/>
<circle cx="1095.75" cy="605.10" r="10.3" fill="url(#sph)"/>
<polyline points="742.00,845.50 760.00,846.00 790.00,846.50 830.00,846.00 862.00,845.50 878.00,845.00 884.00,838.00 889.00,823.00 895.00,814.50 900.00,818.00 905.00,832.00 912.00,845.50 930.00,845.00 950.00,843.00 965.00,840.50 976.00,839.50 986.00,840.50 997.00,844.50 1008.00,852.00 1017.00,855.00 1030.00,855.50 1043.00,856.80 1053.70,862.10 1066.20,854.20 1080.50,858.50 1088.00,866.00 1094.80,872.90 1102.00,863.90 1107.40,871.00 1113.00,864.00 1119.90,859.60" fill="none" stroke="#1a1a8a" stroke-width="3" stroke-linejoin="round" stroke-dasharray="3 2.2"/>
<rect x="730.30" y="833.90" width="12.4" height="12.2" fill="#1a1a8a"/>
<rect x="778.20" y="833.90" width="12.4" height="12.2" fill="#1a1a8a"/>
<rect x="826.10" y="833.90" width="12.4" height="12.2" fill="#1a1a8a"/>
<rect x="874.00" y="833.90" width="12.4" height="12.2" fill="#1a1a8a"/>
<rect x="921.90" y="833.90" width="12.4" height="12.2" fill="#1a1a8a"/>
<rect x="969.80" y="833.90" width="12.4" height="12.2" fill="#1a1a8a"/>
<rect x="1017.70" y="833.90" width="12.4" height="12.2" fill="#1a1a8a"/>
<rect x="1065.60" y="833.90" width="12.4" height="12.2" fill="#1a1a8a"/>
<rect x="1113.50" y="833.90" width="12.4" height="12.2" fill="#1a1a8a"/>
<line x1="721.20" y1="541.00" x2="777.70" y2="541.00" stroke="#f04848" stroke-width="2" />
<circle cx="749.8" cy="541" r="9.3" fill="#fff" stroke="#f04848" stroke-width="2.8"/>
<text x="782.50" y="549.50" font-size="21.5" text-anchor="start" fill="#000" >Region S</text>
<line x1="721.20" y1="571.00" x2="777.70" y2="571.00" stroke="#f04848" stroke-width="2" />
<circle cx="749.8" cy="571" r="9.6" fill="url(#sph)"/>
<text x="782.50" y="579.00" font-size="21.5" text-anchor="start" fill="#000" >Region D</text>
<line x1="720.70" y1="607.20" x2="786.30" y2="607.20" stroke="#1a1a8a" stroke-width="2.5" stroke-dasharray="3 1.8"/>
<text x="795.50" y="617.50" font-size="21" text-anchor="start" fill="#000" font-style="italic" >I</text>
<text x="802.00" y="624.50" font-size="14.5" text-anchor="start" fill="#000" font-style="italic" >ds</text>
<rect x="748.3" y="644.4" width="13" height="12.3" fill="#1a1a8a"/>
<text x="795.50" y="660.00" font-size="21" text-anchor="start" fill="#000" font-style="italic" >I</text>
<text x="802.00" y="669.00" font-size="14.5" text-anchor="start" fill="#000" font-style="italic" >pc</text>
</svg></body></html>
